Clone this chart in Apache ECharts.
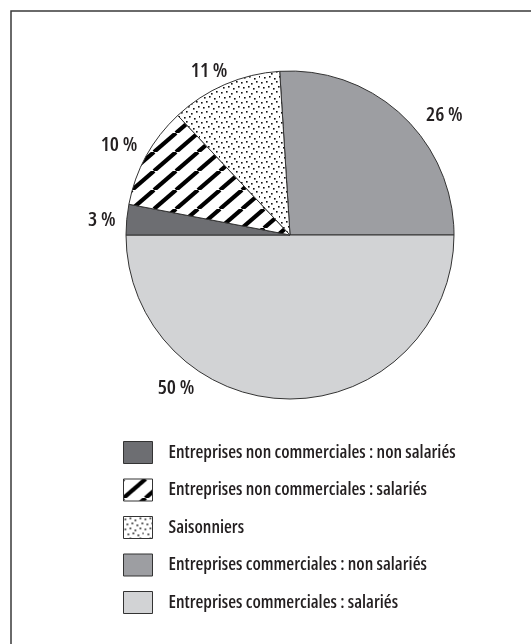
<!DOCTYPE html>
<html>
<head>
<meta charset="utf-8">
<script src="https://cdn.jsdelivr.net/npm/echarts@6/dist/echarts.min.js"></script>
<style>
  html, body { margin: 0; padding: 0; background: #fff; }
  #chart { width: 531px; height: 644px; }
</style>
</head>
<body>
<div id="chart"></div>
<script>
// parts in pie order, clockwise from the top
var names = [
  "Entreprises commerciales : non salariés",
  "Entreprises commerciales : salariés",
  "Entreprises non commerciales : non salariés",
  "Entreprises non commerciales : salariés",
  "Saisonniers"
];
var values = [26, 50, 3, 10, 11];
// legend order as printed
var legendOrder = [
  "Entreprises non commerciales : non salariés",
  "Entreprises non commerciales : salariés",
  "Saisonniers",
  "Entreprises commerciales : non salariés",
  "Entreprises commerciales : salariés"
];

var FONT = '"Open Sans", "DejaVu Sans Condensed", sans-serif';
// nudges of the % labels, same order as names
var labelShift = [[22, 16], [-119, -33], [2, 3], [-3, 0], [-2, 7]];

// diagonal hatch
function makeHatch() {
  var w = 22, h = 19;
  var c = document.createElement("canvas");
  c.width = w; c.height = h;
  var g = c.getContext("2d");
  g.fillStyle = "#fff";
  g.fillRect(0, 0, w, h);
  g.strokeStyle = "#000";
  g.lineWidth = 4.2;
  [-w, 0, w].forEach(function (s) {
    g.beginPath();
    g.moveTo(s, h);
    g.lineTo(s + w, 0);
    g.stroke();
  });
  return c;
}

// dotted fill
function makeDots() {
  var c = document.createElement("canvas");
  c.width = 20; c.height = 20;
  var g = c.getContext("2d");
  g.fillStyle = "#fff";
  g.fillRect(0, 0, 20, 20);
  g.fillStyle = "#111";
  var pts = [[1,2],[6,1],[11,3],[16,1],[3,7],[8,6],[13,8],[18,6],
             [1,12],[6,11],[11,13],[16,11],[4,17],[9,16],[14,18],[19,16]];
  pts.forEach(function (p) { g.fillRect(p[0], p[1], 1.6, 1.6); });
  return c;
}

var colors = [
  "#9d9ea2",
  "#d2d3d5",
  "#6d6e72",
  { image: makeHatch(), repeat: "repeat" },
  { image: makeDots(), repeat: "repeat" }
];

var pieData = names.map(function (n, i) {
  return { name: n, value: values[i], itemStyle: { color: colors[i] } };
});

var chart = echarts.init(document.getElementById("chart"));
chart.setOption({
  backgroundColor: "#fff",
  animation: false,
  graphic: [{
    type: "rect",
    shape: { x: 11, y: 11, width: 700, height: 800 },
    style: { fill: "none", stroke: "#3a3a3a", lineWidth: 1.5 },
    silent: true
  }],
  legend: {
    data: legendOrder,
    orient: "vertical",
    left: 118,
    top: 436,
    itemWidth: 29,
    itemHeight: 22,
    itemGap: 14.5,
    icon: "rect",
    itemStyle: { borderColor: "#333", borderWidth: 1 },
    textStyle: {
      fontFamily: FONT, fontStyle: "normal", fontWeight: "550 condensed",
      fontSize: 18, color: "#231f20", padding: [0, 0, 0, 11]
    }
  },
  series: [{
    type: "pie",
    center: [290, 235],
    radius: 164,
    startAngle: 93.6,
    clockwise: true,
    data: pieData,
    itemStyle: { borderColor: "#333", borderWidth: 1 },
    label: {
      show: true,
      position: "outside",
      formatter: "{c} %",
      fontFamily: FONT,
      fontStyle: "normal",
      fontWeight: "550 condensed",
      fontSize: 20.5,
      color: "#231f20"
    },
    labelLine: { show: false, length: 22, length2: 0 },
    labelLayout: function (p) {
      var s = labelShift[p.dataIndex];
      return { align: "center", verticalAlign: "middle", dx: s[0], dy: s[1] };
    },
    emphasis: { disabled: true }
  }]
});
</script>
</body>
</html>
